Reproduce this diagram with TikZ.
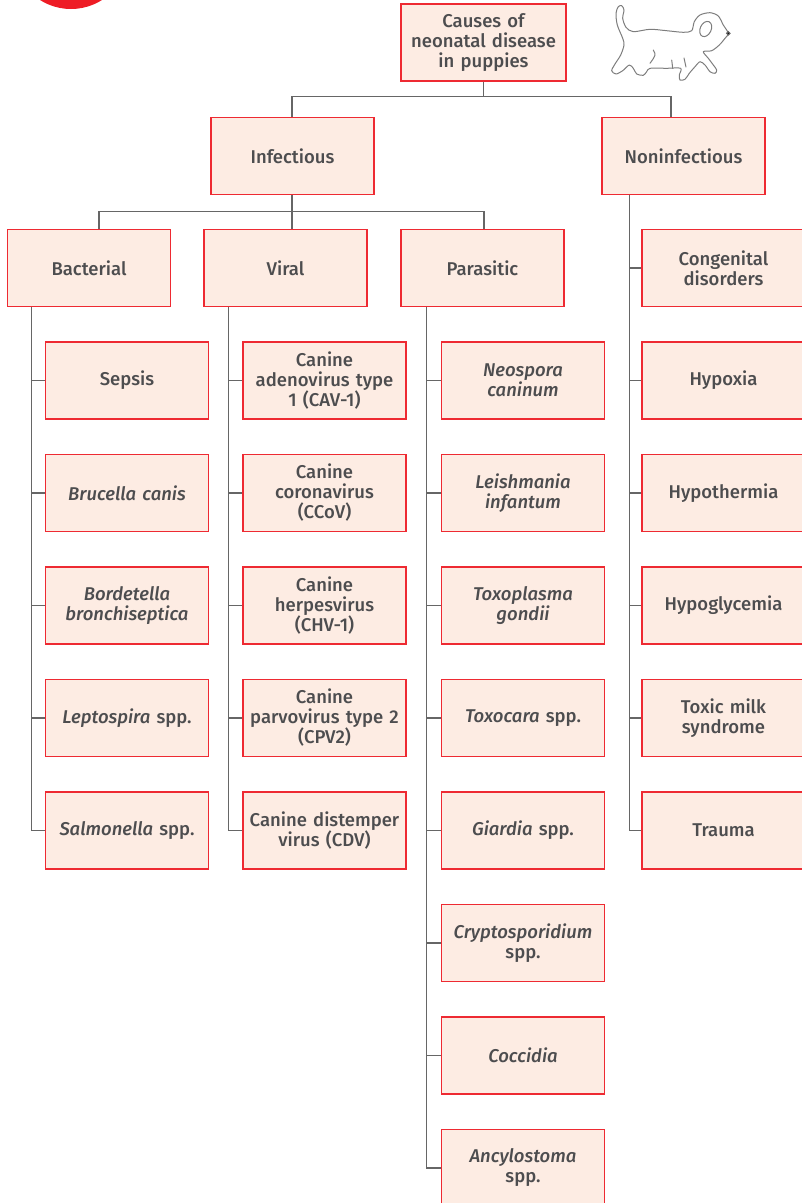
\documentclass[tikz,border=0pt]{standalone}
\usepackage{fontspec}
\setmainfont{Fira Sans}[UprightFont=* Medium,ItalicFont=* Medium Italic]
\definecolor{boxred}{HTML}{EE2A32}
\definecolor{boxfill}{HTML}{FDECE3}
\definecolor{txt}{HTML}{4D4D4F}
\definecolor{wire}{HTML}{666666}
\definecolor{badge}{HTML}{EE1C25}
\begin{document}
\begin{tikzpicture}[x=1pt,y=-1pt,
  cbox/.style={draw=boxred,line width=1.4pt,fill=boxfill,minimum width=163pt,
    minimum height=77pt,text width=160pt,align=center,inner sep=0pt,
    text=txt,font=\fontsize{18.5}{20}\selectfont},
  wire/.style={draw=wire,line width=1.1pt},
  dog/.style={draw=wire!85,line width=1pt,line join=round,line cap=round}]
\useasboundingbox (0,0) rectangle (802,1203);

% corner badge
\fill[badge] (71,-49) circle (58);

% puppy outline
\draw[dog] plot[smooth cycle,tension=0.5] coordinates {
  (622.7,38.3) (617.3,25) (616,13.3) (618.3,6.7) (621.7,5.7) (624,10)
  (622.7,18.3) (626,27.3) (633.3,31.7) (650,29.3) (666.7,30.7) (683.3,32.3)
  (691.7,30.7) (694.3,21.7) (700,15) (710,12.7) (718.3,16) (723.3,25)
  (728.3,33.3) (725,38.3) (719.3,45) (711.7,50.7) (703.3,51.7)
  (708.3,58.3) (713.3,65) (716.7,70) (715,73.3) (710,71.7) (705,65)
  (700,61.7) (695,66.7) (689.3,73.3) (685,79.3) (680,80) (679.3,75)
  (680.7,68.3) (666.7,68.3) (650,68.3) (646.7,71.7) (643.3,75.3)
  (636.7,74) (633.3,68.3) (629.3,65) (622.7,70.7) (616,74) (611.7,70.7)
  (615,64) (620.7,55) (624,45)};
\draw[dog] (705.7,29) ellipse [x radius=5.5, y radius=8, rotate=-25];
\fill[wire] (728.3,33.3) circle (1.7);
\draw[dog] (653.3,50) .. controls (656,55) .. (650,63.3);
\draw[dog] (671.7,60) -- (672.7,68.3);
\draw[dog] (684,58) -- (686,67);

% level 0 and 1
\node[cbox,minimum width=165pt] (root) at (483.5,42.5) {Causes of\\neonatal disease\\in puppies};
\node[cbox] (inf) at (292.5,156) {Infectious};
\node[cbox] (non) at (683.5,156) {Noninfectious};

% level 2
\node[cbox] (bac) at (89,268) {Bacterial};
\node[cbox] (vir) at (285.5,268) {Viral};
\node[cbox] (par) at (482.5,268) {Parasitic};

% bacterial causes
\node[cbox] (b1) at (127,380.5) {Sepsis};
\node[cbox] (b2) at (127,493) {\itshape Brucella canis};
\node[cbox] (b3) at (127,605.5) {\itshape Bordetella\\bronchiseptica};
\node[cbox] (b4) at (127,718) {\textit{Leptospira} spp.};
\node[cbox] (b5) at (127,830.5) {\textit{Salmonella} spp.};

% viral causes
\node[cbox] (v1) at (324.5,380.5) {Canine\\adenovirus type\\1 (CAV-1)};
\node[cbox] (v2) at (324.5,493) {Canine\\coronavirus\\(CCoV)};
\node[cbox] (v3) at (324.5,605.5) {Canine\\herpesvirus\\(CHV-1)};
\node[cbox] (v4) at (324.5,718) {Canine\\parvovirus type 2\\(CPV2)};
\node[cbox] (v5) at (324.5,830.5) {Canine distemper\\virus (CDV)};

% parasitic causes
\node[cbox] (p1) at (523,380.5) {\itshape Neospora\\caninum};
\node[cbox] (p2) at (523,493) {\itshape Leishmania\\infantum};
\node[cbox] (p3) at (523,605.5) {\itshape Toxoplasma\\gondii};
\node[cbox] (p4) at (523,718) {\textit{Toxocara} spp.};
\node[cbox] (p5) at (523,830.5) {\textit{Giardia} spp.};
\node[cbox] (p6) at (523,943) {\textit{Cryptosporidium}\\spp.};
\node[cbox] (p7) at (523,1055.5) {\itshape Coccidia};
\node[cbox] (p8) at (523,1168) {\textit{Ancylostoma}\\spp.};

% noninfectious causes
\node[cbox] (n1) at (723.5,268) {Congenital\\disorders};
\node[cbox] (n2) at (723.5,380.5) {Hypoxia};
\node[cbox] (n3) at (723.5,493) {Hypothermia};
\node[cbox] (n4) at (723.5,605.5) {Hypoglycemia};
\node[cbox] (n5) at (723.5,718) {Toxic milk\\syndrome};
\node[cbox] (n6) at (723.5,830.5) {Trauma};

% top bus
\draw[wire] (root.south) -- ++(0,15) coordinate (bus1);
\draw[wire] ([xshift=-0.5pt]inf.north) |- (bus1) -| ([xshift=-12.5pt]non.north);

% infectious bus
\draw[wire] ([xshift=-0.5pt]inf.south) -- ([xshift=6.5pt]vir.north);
\draw[wire] ([xshift=10pt]bac.north) -- ++(0,-17) coordinate (bus2)
  -| ([xshift=1.5pt]par.north);

% spines with branches
\foreach \c in {b1,b2,b3,b4,b5}
  \draw[wire] ([xshift=25pt]bac.south west) |- (\c.west);
\foreach \c in {v1,v2,v3,v4,v5}
  \draw[wire] ([xshift=25pt]vir.south west) |- (\c.west);
\foreach \c in {p1,p2,p3,p4,p5,p6,p7,p8}
  \draw[wire] ([xshift=26pt]par.south west) |- (\c.west);
\foreach \c in {n1,n2,n3,n4,n5,n6}
  \draw[wire] ([xshift=28pt]non.south west) |- (\c.west);
\end{tikzpicture}
\end{document}
